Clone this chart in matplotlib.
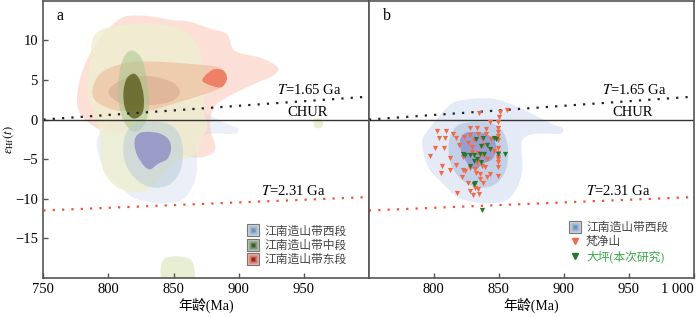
import numpy as np
import matplotlib
matplotlib.use("Agg")
import matplotlib.pyplot as plt
from matplotlib.path import Path
from matplotlib.patches import PathPatch
from matplotlib.lines import Line2D
from matplotlib.legend_handler import HandlerTuple

plt.rcParams['font.family'] = ['Liberation Serif', 'Noto Sans CJK SC']
plt.rcParams['mathtext.fontset'] = 'stix'
plt.rcParams['axes.unicode_minus'] = True

# ---- density contour outlines (age Ma, eHf) ----
# western segment
west_outer = [(820, 2.4), (845, 2.65), (866, 1.5), (889, -0.4), (899, -1.1), (897, -1.8),
              (879, -1.8), (868, -2.7), (868, -6.4), (864, -8.6), (856, -10.2), (843, -10.6),
              (833, -10.5), (818, -9.8), (807, -8.1), (797, -6.4), (793, -4.8), (791, -2.7),
              (797, -1.0), (810, 1.5)]
west_mid = [(812, -2.5), (818, -0.8), (830, -0.3), (845, -0.5), (853, -1.5), (857, -3.5),
            (856, -6.0), (850, -7.8), (840, -8.6), (828, -8.3), (818, -7.0), (812, -5.0)]
west_inner = [(821, -2.2), (826, -1.6), (838, -1.7), (846, -2.5), (848, -3.8), (845, -5.0),
              (838, -5.6), (832, -6.3), (827, -5.8), (822, -4.5), (820, -3.2)]
# central segment
center_outer = [(791, 11.0), (819, 12.1), (845, 11.9), (860, 11.0), (870, 8.7), (874, 4.5),
                (873, 1.1), (876, -1.0), (870, -2.7), (868, -4.3), (850, -5.5), (837, -8.1),
                (824, -9.2), (807, -8.6), (796, -6.4), (794, -2.7), (791, -0.1), (784, 3.3),
                (786, 7.4)]
center_outer2 = [(843, -17.6), (853, -17.3), (863, -17.7), (866, -19.0), (864, -20.6),
                 (843, -20.6), (840, -19.0)]
center_outer3 = [(958, 0.0), (963, 0.1), (965, -0.6), (962, -1.1), (958, -0.9)]
center_mid = [(819, 8.7), (826, 7.5), (830, 4.5), (831, 1.5), (828, -0.5), (822, -1.5),
              (816, -1.2), (810, 0.5), (807, 3.5), (809, 6.5), (813, 8.2)]
center_inner = [(819.5, 5.8), (824, 5.0), (827, 3.0), (826.5, 1.0), (822, 0.2), (817, 0.3),
                (812.5, 1.5), (811.5, 3.5), (814, 5.2)]
# eastern segment
east_outer = [(800, 11.5), (812, 13.0), (830, 13.1), (848, 12.6), (862, 12.4), (878, 11.5),
              (891, 10.8), (897, 8.7), (917, 7.8), (930, 6.6), (927, 5.6), (912, 4.5),
              (891, 2.8), (881, 1.5), (878, -1.0), (882, -3.8), (870, -4.8), (855, -4.3),
              (840, -3.0), (820, -2.0), (800, -1.5), (790, -1.0), (778, 0.8), (776, 3.3),
              (781, 6.6), (790, 9.5)]
east_mid = [(788, 4.0), (795, 6.0), (815, 7.2), (840, 7.3), (865, 7.0), (885, 6.6),
            (891, 5.3), (886, 4.0), (870, 3.0), (850, 2.0), (830, 1.1), (805, 1.2), (790, 2.4)]
east_inner = [(800, 3.5), (810, 5.0), (830, 5.5), (848, 4.8), (855, 3.5), (848, 2.3),
              (830, 1.8), (810, 2.0)]
east_inner2 = [(872, 5.0), (880, 6.3), (888, 6.2), (891, 5.2), (887, 4.1), (879, 4.3)]

# ---- zircon data, panel b ----
fj_age = [834.8, 850.7, 856.4, 850.0, 843.5, 802.5, 809.7, 827.6, 833.3, 849.7, 849.7, 849.7,
          804.1, 808.7, 817.4, 823.0, 828.2, 834.3, 840.5, 836.9, 807.6, 801.0, 796.9, 812.3,
          822.5, 829.2, 834.3, 837.9, 843.5, 849.7, 849.7, 849.7, 834.3, 806.6, 805.6, 821.5,
          828.2, 831.8, 832.8, 835.3, 835.3, 836.9, 841.0, 843.5, 849.7, 849.7, 826.6, 830.7,
          834.3, 817.9, 827.6, 830.2, 834.8, 826.0, 829.0, 838.0, 841.0, 833.0, 839.0, 844.0,
          846.0, 831.0, 824.0, 838.0, 849.7, 849.7, 840.0, 815.0, 819.0, 812.3, 816.9, 822.1,
          831.8, 849.7, 849.7]
fj_ehf = [0.84, 0.93, 1.18, 0.34, -0.33, -1.51, -1.51, -1.01, -1.09, -1.09, -1.59, -2.10,
          -2.27, -2.27, -2.27, -2.18, -1.93, -1.85, -1.85, -2.35, -3.61, -3.61, -4.62, -4.87,
          -4.79, -4.12, -4.20, -3.28, -3.70, -3.61, -4.20, -4.96, -4.96, -5.88, -6.81, -7.23,
          -6.13, -6.30, -6.72, -6.89, -7.48, -5.88, -7.31, -6.89, -6.05, -7.14, -7.98, -8.32,
          -8.74, -9.25, -8.99, -9.50, -9.41, -3.0, -3.5, -4.5, -5.0, -5.5, -6.0, -2.5,
          -4.0, -2.6, -6.5, -8.0, -0.3, -2.6, -1.2, -1.8, -3.2, -6.43, -5.8, -6.43,
          -8.6, -5.4, -4.75]
dp_age = [832.8, 837.9, 846.6, 848.2, 824.1, 827.6, 830.7, 833.3, 835.3, 838.9, 841.0, 843.0,
          836.4, 827.6, 830.7, 831.8, 835.9, 849.7, 837.4, 822.6, 854.4, 830.8]
dp_ehf = [-2.52, -2.35, -2.35, -2.44, -4.45, -4.54, -4.54, -4.96, -4.37, -4.37, -3.28, -3.70,
          -3.36, -5.88, -5.29, -8.07, -5.38, -4.37, -11.43, -4.41, -4.33, -8.1]

# reference lines (age, eHf end points)
chur_x = [750, 1000]
chur_y = [0, 0]
t165_x = [750, 1000]
t165_y = [0.0, 2.9]
t231_x = [750, 1000]
t231_y = [-11.5, -9.8]


def smooth_patch(pts, **kw):
    # closed cubic bezier passing through the outline vertices (catmull-rom style)
    p = np.array(pts, dtype=float)
    n = len(p)
    verts = [p[0]]
    codes = [Path.MOVETO]
    for i in range(n):
        p0, p1, p2, p3 = p[i - 1], p[i], p[(i + 1) % n], p[(i + 2) % n]
        verts += [p1 + (p2 - p0) / 6, p2 - (p3 - p1) / 6, p2]
        codes += [Path.CURVE4] * 3
    return PathPatch(Path(verts, codes), lw=0, **kw)


def add(ax, pts, color, alpha):
    ax.add_patch(smooth_patch(pts, facecolor=color, alpha=alpha))


fig = plt.figure(figsize=(7, 3.17), dpi=100)
axa = fig.add_axes([0.062, 0.124, 0.465, 0.873])
axb = fig.add_axes([0.527, 0.124, 0.464, 0.873])

# panel a contours
add(axa, west_outer, '#dde5f4', 0.6)
add(axa, east_outer, '#fbc2b0', 0.5)
add(axa, center_outer, '#eeeed0', 0.8)
add(axa, center_outer2, '#e6edcc', 0.9)
add(axa, center_outer3, '#e6edcc', 0.9)
add(axa, east_mid, '#eeb08e', 0.5)
add(axa, east_inner, '#c98f78', 0.35)
add(axa, east_inner2, '#ec6248', 0.7)
add(axa, center_mid, '#a6c68c', 0.55)
add(axa, center_inner, '#5a5c1c', 0.8)
add(axa, west_mid, '#b9ccd8', 0.55)
add(axa, west_inner, '#8887c2', 0.75)

# panel b contours
add(axb, west_outer, '#e4eaf6', 1.0)
add(axb, west_mid, '#c3d1e8', 1.0)
add(axb, west_inner, '#9c9ed2', 1.0)

for ax in (axa, axb):
    ax.plot(chur_x, chur_y, color='#333333', lw=1.0)
    ax.plot(t165_x, t165_y, color='#222222', lw=1.6, ls=(0, (1, 3.2)))
    ax.plot(t231_x, t231_y, color='#f0503a', lw=1.6, ls=(0, (1, 3.2)))
    ax.set_xlim(750, 1000)
    ax.set_ylim(-20, 15)
    ax.text(954, 3.8, '$T$=1.65 Ga', ha='center', va='center', fontsize=10.5)
    ax.text(953, 0.9, 'CHUR', ha='center', va='center', fontsize=10.5)
    ax.text(942, -9.0, '$T$=2.31 Ga', ha='center', va='center', fontsize=10.5)
    ax.tick_params(direction='in', length=3.5, width=1, color='#555555', labelsize=10.5, pad=4)
    for s in ax.spines.values():
        s.set_color('#555555')
        s.set_linewidth(1.2)
    ax.set_xlabel('年龄(Ma)', fontsize=10, labelpad=1)

axb.scatter(fj_age, fj_ehf, marker='v', s=14, color='#f26a45', lw=0, zorder=5)
axb.scatter(dp_age, dp_ehf, marker='v', s=14, color='#1f7a2c', lw=0, zorder=6)

axa.set_xticks([750, 800, 850, 900, 950])
axa.set_yticks([-15, -10, -5, 0, 5, 10])
axa.set_ylabel(r'$\varepsilon_{\mathrm{Hf}}(t)$', fontsize=9)
axa.yaxis.set_label_coords(-0.085, 0.5)
axb.set_xticks([800, 850, 900, 950, 1000])
axb.set_xticklabels(['800', '850', '900', '950', '1 000'])
axb.get_xticklabels()[-1].set_horizontalalignment('right')
axb.set_yticks([])

axa.text(760, 13.1, 'a', fontsize=11.5, va='center')
axb.text(760.5, 13.1, 'b', fontsize=11.5, va='center')


def sq_handle(c1, c2, c3):
    return (Line2D([], [], marker='s', ms=9, mfc=c1, mec='#777777', mew=0.8, ls=''),
            Line2D([], [], marker='s', ms=6, mfc=c2, mec='none', ls=''),
            Line2D([], [], marker='s', ms=3, mfc=c3, mec='none', ls=''))


ha = [sq_handle('#c9d3dc', '#9fb9cf', '#6f8fbf'),
      sq_handle('#b7c2b3', '#7e9a72', '#3e5a33'),
      sq_handle('#e8b1a6', '#d9776a', '#8a2a22')]
leg = axa.legend(ha, ['江南造山带西段', '江南造山带中段', '江南造山带东段'],
                 handler_map={tuple: HandlerTuple(ndivide=1)}, loc='lower right',
                 bbox_to_anchor=(0.95, 0.02), frameon=False, fontsize=8.5,
                 handlelength=1.1, handletextpad=0.4, labelspacing=0.2, borderpad=0)
for t in leg.get_texts():
    t.set_color('#444444')

hb = [sq_handle('#c9d3dc', '#9fb9cf', '#6f8fbf'),
      Line2D([], [], marker='v', ms=5, color='#f26a45', ls=''),
      Line2D([], [], marker='v', ms=5, color='#1f7a2c', ls='')]
legb = axb.legend(hb, ['江南造山带西段', '梵净山', '大坪(本次研究)'],
                  handler_map={tuple: HandlerTuple(ndivide=1)}, loc='lower right',
                  bbox_to_anchor=(0.94, 0.03), frameon=False, fontsize=8.5,
                  handlelength=1.1, handletextpad=0.4, labelspacing=0.2, borderpad=0)
tb = legb.get_texts()
tb[0].set_color('#444444')
tb[1].set_color('#444444')
tb[2].set_color('#3aa848')

fig.savefig('out.png', dpi=100)
